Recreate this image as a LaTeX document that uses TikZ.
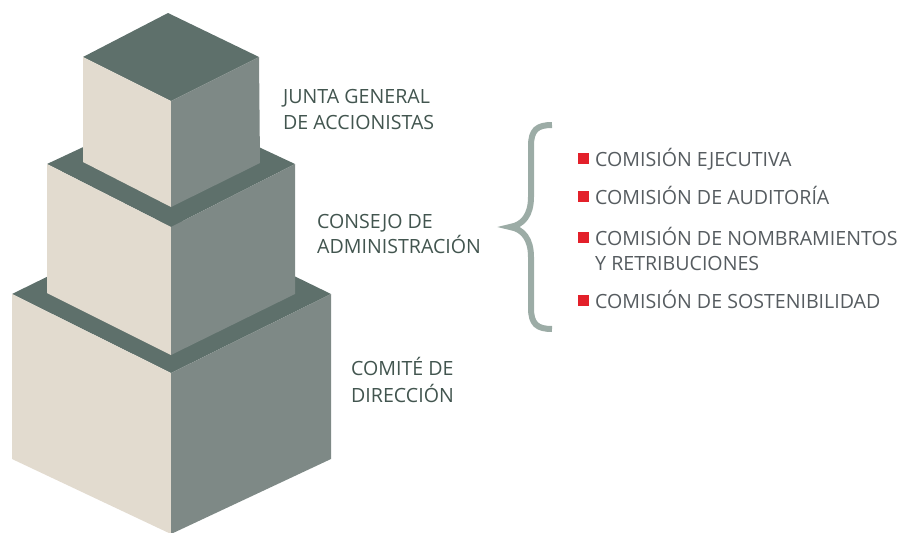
\documentclass[tikz,border=0pt]{standalone}
\usepackage{fontspec}
\setmainfont{Open Sans}
\definecolor{topc}{HTML}{5E706B}
\definecolor{leftc}{HTML}{E2DBCF}
\definecolor{rightc}{HTML}{7E8986}
\definecolor{lblc}{HTML}{42554F}
\definecolor{listc}{HTML}{565C60}
\definecolor{redc}{HTML}{E3202A}
\definecolor{bracec}{HTML}{9CACA6}
\begin{document}
\begin{tikzpicture}[x=1pt,y=-1pt,
  topf/.style={fill=topc},
  leftf/.style={fill=leftc},
  rightf/.style={fill=rightc},
  lbl/.style={anchor=base west,inner sep=0pt,text=lblc,font=\fontsize{19.6}{22}\selectfont},
  itm/.style={anchor=base west,inner sep=0pt,text=listc,font=\fontsize{19.6}{22}\selectfont},
  bullet/.style={fill=redc,minimum width=10.5pt,minimum height=10.5pt,inner sep=0pt,anchor=north west}]
\useasboundingbox (0,0) rectangle (903,533);
% bottom cube
\fill[topf] (171,216) -- (331,294) -- (171,373) -- (12,294) -- cycle;
\fill[leftf] (12,294) -- (171,373) -- (171,534) -- (12,459) -- cycle;
\fill[rightf] (171,373) -- (331,294) -- (331,459) -- (171,534) -- cycle;
% middle cube
\fill[topf] (171,106) -- (295,164) -- (171,227) -- (47,164) -- cycle;
\fill[leftf] (47,164) -- (171,227) -- (171,355) -- (47,293) -- cycle;
\fill[rightf] (171,227) -- (295,164) -- (295,294) -- (171,355) -- cycle;
% top cube
\fill[topf] (168,13) -- (259,57) -- (171,101) -- (83,57) -- cycle;
\fill[leftf] (83,57) -- (171,101) -- (171,207) -- (83,162) -- cycle;
\fill[rightf] (171,101) -- (259,57) -- (260,163) -- (171,207) -- cycle;
% labels
\node[lbl] (j1) at (283,103) {JUNTA GENERAL};
\node[lbl] (j2) at (283,129) {DE ACCIONISTAS};
\node[lbl] (c1) at (317,228) {CONSEJO DE};
\node[lbl] (c2) at (317,253) {ADMINISTRACIÓN};
\node[lbl] (d1) at (351,375) {COMITÉ DE};
\node[lbl] (d2) at (351,402) {DIRECCIÓN};
% brace
\draw[bracec,line width=6pt] (552,125) .. controls (537,125) and (531,130) .. (531,146) -- (531,197)
  .. controls (531,215) and (523,225) .. (510,227)
  .. controls (523,229) and (531,239) .. (531,257) -- (531,308)
  .. controls (531,324) and (537,329) .. (552,329);
% list
\node[bullet] (b1) at (578,153) {};
\node[itm] (i1) at (595,166) {COMISIÓN EJECUTIVA};
\node[bullet] (b2) at (578,191) {};
\node[itm] (i2) at (595,204) {COMISIÓN DE AUDITORÍA};
\node[bullet] (b3) at (578,232) {};
\node[itm] (i3) at (595,245) {COMISIÓN DE NOMBRAMIENTOS};
\node[itm] (i3b) at (595,270) {Y RETRIBUCIONES};
\node[bullet] (b4) at (578,295) {};
\node[itm] (i4) at (595,308) {COMISIÓN DE SOSTENIBILIDAD};
\end{tikzpicture}
\end{document}
